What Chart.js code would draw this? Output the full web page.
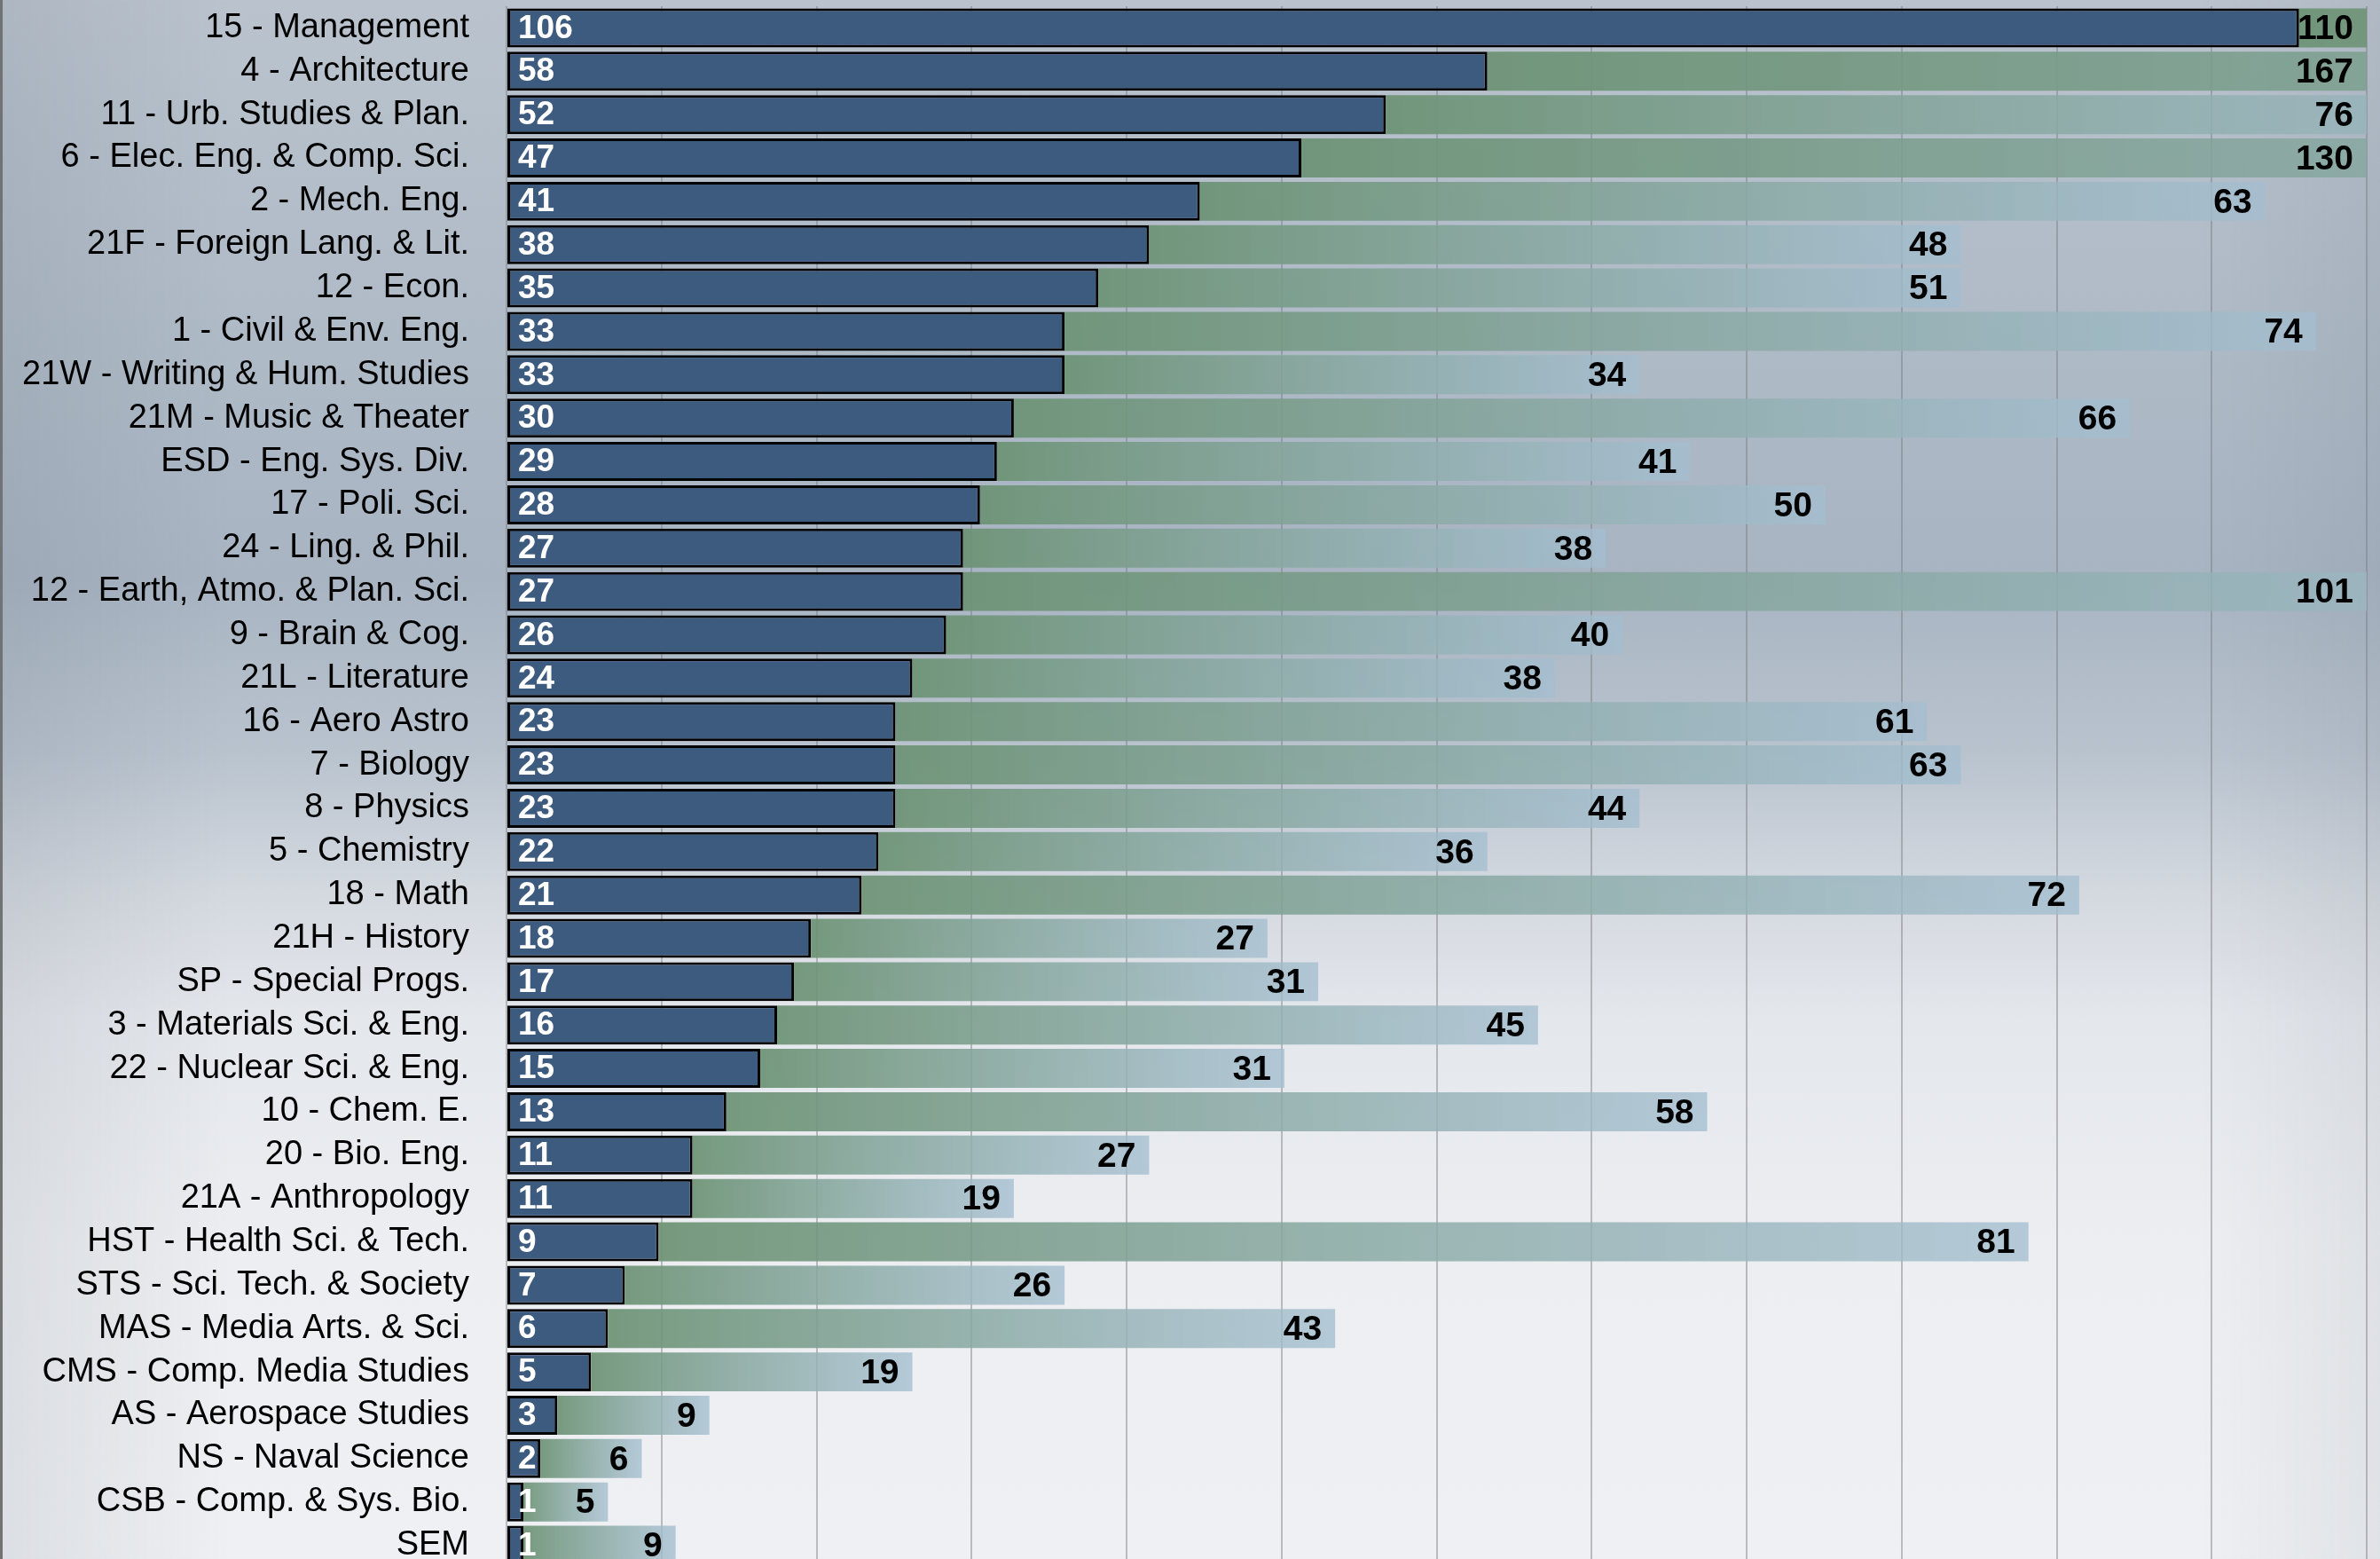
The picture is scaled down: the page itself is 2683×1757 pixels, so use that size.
<!DOCTYPE html>
<html>
<head>
<meta charset="utf-8">
<script src="https://cdn.jsdelivr.net/npm/chart.js@4"></script>
<style>
  html, body {
    margin: 0;
    padding: 0;
    width: 2683px;
    height: 1757px;
    overflow: hidden;
  }
  body {
    background:
      linear-gradient(to right, rgba(60,70,85,0.10) 0px, rgba(60,70,85,0) 260px, rgba(60,70,85,0) 2480px, rgba(60,70,85,0.08) 2683px),
      linear-gradient(to bottom, #bac3cd 0px, #b1bcc8 300px, #a8b4c2 650px, #b9c3ce 850px, #d3d8df 1000px, #e4e7ec 1150px, #eceef1 1400px, #eef0f3 1757px);
    border-left: 3px solid #707274;
    box-sizing: border-box;
  }
  #wrap {
    position: absolute;
    left: 0;
    top: 0;
    width: 2683px;
    height: 1766px;
  }
</style>
</head>
<body>
<div id="wrap"><canvas id="deptChart"></canvas></div>
<script>
/*************************************************
 * Students per department (stacked bars)        *
 *************************************************/
const categories = [
    '15 - Management', '4 - Architecture', '11 - Urb. Studies & Plan.',
    '6 - Elec. Eng. & Comp. Sci.', '2 - Mech. Eng.', '21F - Foreign Lang. & Lit.',
    '12 - Econ.', '1 - Civil & Env. Eng.', '21W - Writing & Hum. Studies',
    '21M - Music & Theater', 'ESD - Eng. Sys. Div.', '17 - Poli. Sci.',
    '24 - Ling. & Phil.', '12 - Earth, Atmo. & Plan. Sci.', '9 - Brain & Cog.',
    '21L - Literature', '16 - Aero Astro', '7 - Biology', '8 - Physics',
    '5 - Chemistry', '18 - Math', '21H - History', 'SP - Special Progs.',
    '3 - Materials Sci. & Eng.', '22 - Nuclear Sci. & Eng.', '10 - Chem. E.',
    '20 - Bio. Eng.', '21A - Anthropology', 'HST - Health Sci. & Tech.',
    'STS - Sci. Tech. & Society', 'MAS - Media Arts. & Sci.',
    'CMS - Comp. Media Studies', 'AS - Aerospace Studies', 'NS - Naval Science',
    'CSB - Comp. & Sys. Bio.', 'SEM'
];
const frontValues = [106, 58, 52, 47, 41, 38, 35, 33, 33, 30, 29, 28, 27, 27, 26, 24, 23, 23,
                     23, 22, 21, 18, 17, 16, 15, 13, 11, 11, 9, 7, 6, 5, 3, 2, 1, 1];
const backValues = [110, 167, 76, 130, 63, 48, 51, 74, 34, 66, 41, 50, 38, 101, 40, 38, 61, 63,
                    44, 36, 72, 27, 31, 45, 31, 58, 27, 19, 81, 26, 43, 19, 9, 6, 5, 9];
const axisMax = 110;
const gridSteps = 12;

const FONT = '"Liberation Sans", Arial, Helvetica, sans-serif';

// green -> pale blue gradient along each back segment
function segmentGradient(context) {
    const chart = context.chart;
    if (!chart.chartArea) return 'rgba(130,160,150,0.85)';
    const i = context.dataIndex;
    const xs = chart.scales.x;
    const x0 = xs.getPixelForValue(frontValues[i]);
    const x1 = xs.getPixelForValue(frontValues[i] + backValues[i]);
    const g = chart.ctx.createLinearGradient(x0, 0, x1, 0);
    g.addColorStop(0, 'rgba(108,146,116,0.92)');
    g.addColorStop(1, 'rgba(164,190,208,0.78)');
    return g;
}

// value labels: white inside the dark bar, black at the end of the stack
const valueLabels = {
    id: 'valueLabels',
    afterDatasetsDraw(chart) {
        const ctx = chart.ctx;
        const area = chart.chartArea;
        const front = chart.getDatasetMeta(0).data;
        const back = chart.getDatasetMeta(1).data;
        ctx.save();
        ctx.textBaseline = 'middle';
        front.forEach((bar, i) => {
            ctx.font = 'bold 37px ' + FONT;
            ctx.fillStyle = '#ffffff';
            ctx.textAlign = 'left';
            ctx.fillText(frontValues[i], bar.base + 12, bar.y + 1);
        });
        back.forEach((bar, i) => {
            ctx.font = 'bold 39px ' + FONT;
            ctx.fillStyle = '#000000';
            ctx.textAlign = 'right';
            const end = Math.min(bar.x, area.right);
            ctx.fillText(backValues[i], end - 15, bar.y + 2);
        });
        ctx.restore();
    }
};

const deptChart = new Chart(document.getElementById('deptChart'), {
    type: 'bar',
    data: {
        labels: categories,
        datasets: [{
            label: 'front',
            data: frontValues,
            backgroundColor: '#3d5a7f',
            borderColor: '#000000',
            borderWidth: 3,
            borderSkipped: false,
            barPercentage: 0.9,
            categoryPercentage: 1
        }, {
            label: 'back',
            data: backValues,
            backgroundColor: segmentGradient,
            borderWidth: 0,
            barPercentage: 0.9,
            categoryPercentage: 1
        }]
    },
    options: {
        indexAxis: 'y',
        responsive: true,
        maintainAspectRatio: false,
        animation: false,
        layout: {
            padding: { top: 7, right: 15, bottom: 0, left: 0 }
        },
        scales: {
            x: {
                stacked: true,
                min: 0,
                max: axisMax,
                afterBuildTicks: function (scale) {
                    const ticks = [];
                    for (let k = 0; k <= gridSteps; k++) {
                        ticks.push({ value: axisMax * k / gridSteps });
                    }
                    scale.ticks = ticks;
                },
                afterFit: function (scale) {
                    scale.height = 0;
                    scale.paddingLeft = 0;
                    scale.paddingRight = 0;
                },
                ticks: { display: false },
                border: { display: false },
                grid: {
                    color: 'rgba(120,122,126,0.45)',
                    lineWidth: 2,
                    drawTicks: false
                }
            },
            y: {
                stacked: true,
                afterFit: function (scale) {
                    scale.width = 571;
                    scale.paddingTop = 0;
                    scale.paddingBottom = 0;
                },
                border: { display: false },
                grid: { display: false, drawTicks: false },
                ticks: {
                    color: '#000000',
                    padding: 42,
                    autoSkip: false,
                    font: { family: FONT, size: 38 }
                }
            }
        },
        plugins: {
            legend: { display: false },
            tooltip: { enabled: false }
        }
    },
    plugins: [valueLabels]
});
</script>
</body>
</html>
